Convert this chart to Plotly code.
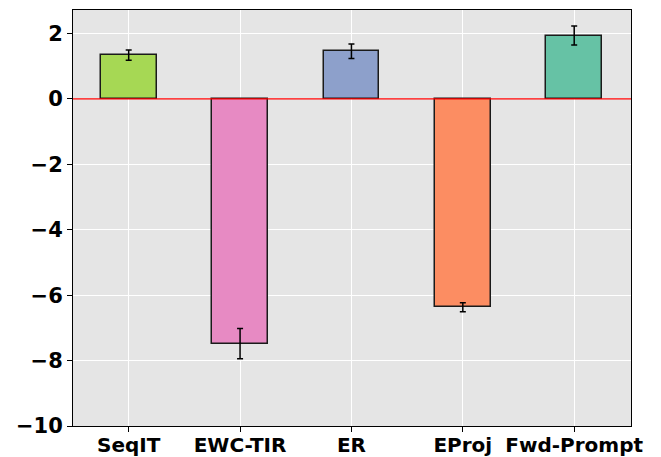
import plotly.graph_objects as go

methods = ["SeqIT", "EWC-TIR", "ER", "EProj", "Fwd-Prompt"]
values = [1.34, -7.48, 1.46, -6.37, 1.94]
errors = [0.16, 0.46, 0.22, 0.14, 0.29]
colors = ["#a6d854", "#e78ac3", "#8da0cb", "#fc8d62", "#66c2a5"]
y_ticks = [2, 0, -2, -4, -6, -8, -10]

x = list(range(len(methods)))

fig = go.Figure()
fig.add_trace(go.Bar(
    x=x, y=values, width=0.5,
    marker=dict(color=colors, line=dict(color="#1a1a1a", width=1.5)),
    error_y=dict(type="data", array=errors, visible=True, color="black", thickness=1.5, width=3),
))
fig.add_shape(type="line", xref="paper", x0=0, x1=1, yref="y", y0=0, y1=0,
              line=dict(color="red", width=1.3), layer="above")

fig.update_layout(
    width=661, height=457,
    margin=dict(l=73, r=30, t=10, b=31, autoexpand=False),
    paper_bgcolor="white", plot_bgcolor="#e5e5e5",
    font=dict(family="DejaVu Sans", color="black"),
    showlegend=False,
    bargap=0,
)
fig.update_xaxes(
    range=[-0.5, 4.51], tickvals=x, ticktext=[f"<b>{m}</b>" for m in methods],
    tickfont=dict(size=20), showgrid=True, gridcolor="white", gridwidth=1,
    ticks="outside", ticklen=5, tickcolor="black", tickwidth=1, ticklabelstandoff=-4,
    showline=True, linecolor="black", linewidth=1, mirror=True, zeroline=False,
)
fig.update_yaxes(
    range=[-10, 2.72], tickvals=y_ticks, ticktext=[f"<b>{'−' if v < 0 else ''}{abs(v)}</b>" for v in y_ticks],
    tickfont=dict(size=21), showgrid=True, gridcolor="white", gridwidth=1,
    ticks="outside", ticklen=5, tickcolor="black", tickwidth=1,
    showline=True, linecolor="black", linewidth=1, mirror=True, zeroline=False,
)
fig.write_html("out.html", config={"displayModeBar": False},
               post_script="document.body.style.margin='0';")
